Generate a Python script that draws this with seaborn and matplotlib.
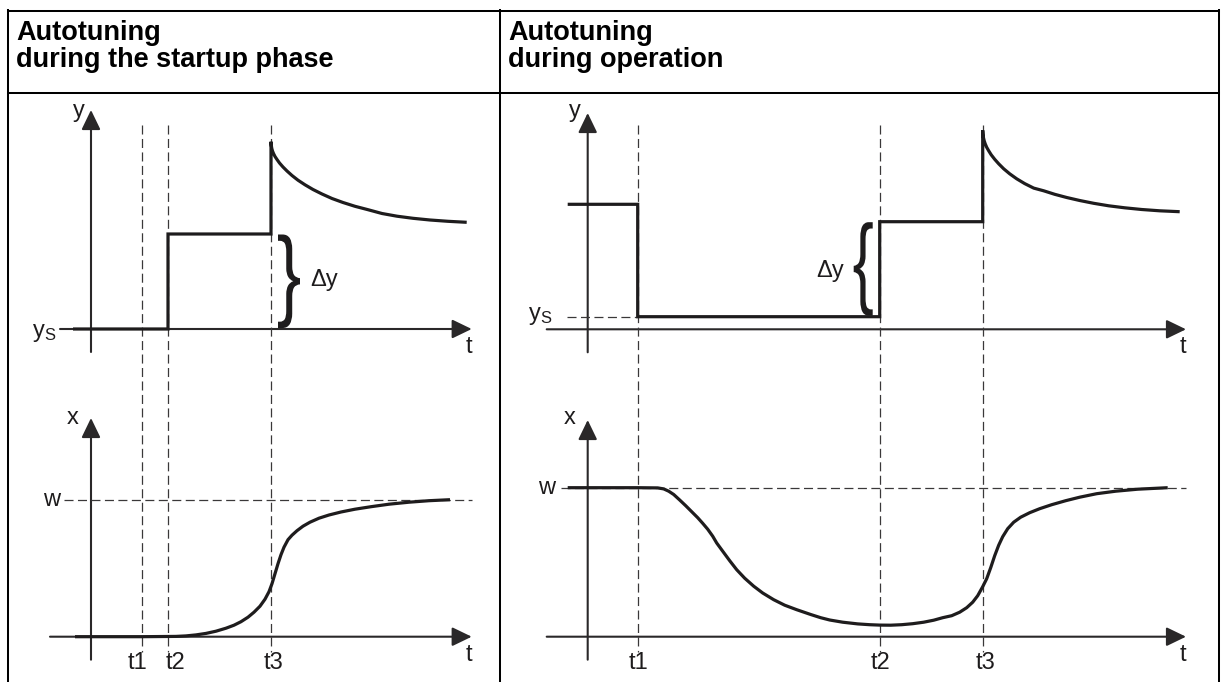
import numpy as np
import pandas as pd
import matplotlib
matplotlib.use("Agg")
import matplotlib.pyplot as plt
import seaborn as sns
import matplotlib.transforms as mtransforms
from matplotlib.textpath import TextPath
from matplotlib.patches import PathPatch
from matplotlib.font_manager import FontProperties

# ---------------- data ----------------
HEADER_LEFT = ["Autotuning", "during the startup phase"]
HEADER_RIGHT = ["Autotuning", "during operation"]
EVENT_LABELS = ["t1", "t2", "t3"]

# Left panel: autotuning during the startup phase (time / value in arbitrary units)
left_events = [5.1, 7.7, 18.0]
left_ys = 0.0
left_w = 13.7
left_y_t = [-1.8, 7.7, 7.7, 18.0, 18.0, 18.03, 18.08, 18.15, 18.25, 18.4, 18.6,
            18.85, 19.2, 19.6, 20.1, 20.7, 21.4, 22.2, 23.1, 24.1, 25.2, 26.4,
            27.7, 29.1, 30.6, 32.2, 33.9, 35.7, 37.57]
left_y_v = [0.0, 0.0, 9.5, 9.5, 18.73, 18.35, 18.05, 17.8, 17.55, 17.25, 16.95,
            16.6, 16.2, 15.8, 15.35, 14.88, 14.42, 13.95, 13.5, 13.05, 12.65, 12.27,
            11.93, 11.55, 11.28, 11.07, 10.9, 10.77, 10.67]
left_x_t = [-1.6, 5.0, 8.5, 9.5, 10.5, 11.5, 12.5, 13.5, 14.3, 15.0, 15.7, 16.3,
            16.9, 17.4, 17.8, 18.1, 18.4, 18.7, 19.0, 19.3, 19.7, 20.1, 20.6,
            21.2, 21.9, 22.8, 23.8, 25.0, 26.4, 28.0, 29.8, 31.8, 33.8, 35.9]
left_x_v = [0.0, 0.0, 0.03, 0.08, 0.18, 0.33, 0.55, 0.85, 1.15, 1.5, 1.95, 2.45,
            3.05, 3.75, 4.5, 5.3, 6.3, 7.3, 8.2, 8.95, 9.7, 10.15, 10.6,
            11.05, 11.45, 11.85, 12.17, 12.47, 12.75, 13.0, 13.25, 13.45, 13.6, 13.7]

# Right panel: autotuning during operation
right_events = [5.0, 29.2, 39.5]
right_ys = 1.26
right_w = 14.9
right_y_t = [-2.0, 5.0, 5.0, 29.2, 29.2, 39.5, 39.5, 39.53, 39.58, 39.65, 39.75,
             39.9, 40.1, 40.35, 40.7, 41.1, 41.6, 42.2, 42.9, 43.7, 44.6, 45.6,
             46.7, 47.9, 49.2, 50.6, 52.1, 53.7, 55.4, 57.2, 59.2]
right_y_v = [12.5, 12.5, 1.26, 1.26, 10.76, 10.76, 19.9, 19.5, 19.15, 18.85, 18.55,
             18.2, 17.85, 17.45, 17.0, 16.55, 16.05, 15.55, 15.05, 14.57, 14.12, 13.85,
             13.5, 13.18, 12.88, 12.6, 12.35, 12.15, 11.98, 11.85, 11.76]
right_x_t = [-2.0, 5.0, 7.0, 7.6, 8.1, 8.6, 9.2, 9.8, 10.4, 11.0, 11.5, 12.0, 12.5,
             12.9, 13.5, 14.2, 14.9, 15.7, 16.6, 17.5, 18.6, 19.7, 20.9, 22.3, 23.3,
             24.2, 25.5, 27.0, 28.2, 29.2, 30.3, 31.4, 32.5, 33.6, 34.6, 35.5, 36.4,
             37.2, 37.9, 38.5, 39.0, 39.5, 39.9, 40.3, 40.7, 41.1, 41.5, 42.0, 42.6,
             43.3, 44.2, 45.2, 46.4, 47.8, 49.2, 50.9, 52.8, 55.0, 58.0]
right_x_v = [14.9, 14.9, 14.88, 14.78, 14.55, 14.22, 13.67, 13.1, 12.5, 11.9, 11.34,
             10.75, 10.05, 9.37, 8.55, 7.6, 6.7, 5.85, 5.05, 4.37, 3.7, 3.15, 2.7, 2.22,
             1.9, 1.67, 1.45, 1.28, 1.2, 1.16, 1.15, 1.2, 1.3, 1.45, 1.65, 1.9, 2.1,
             2.45, 2.9, 3.45, 4.1, 5.0, 5.8, 6.9, 8.1, 9.15, 10.0, 10.8, 11.45,
             11.95, 12.4, 12.8, 13.2, 13.6, 13.95, 14.3, 14.55, 14.75, 14.9]

# ---------------- style ----------------
sns.set_theme(style="white")
plt.rcParams['font.family'] = ['Liberation Sans', 'DejaVu Sans']
plt.rcParams['lines.scale_dashes'] = False
plt.rcParams['mathtext.default'] = 'regular'

W, H, DPI = 1223, 682, 100
UNIT = 10.0  # pixels per data unit
INK = '#1e1c1d'
AXC = '#2a2829'
DASHC = '#3a3839'
LBL = 17

fig = plt.figure(figsize=(W / DPI, H / DPI), dpi=DPI)
fig.patch.set_facecolor('white')

# ---------- table frame ----------
frame = fig.add_axes([0, 0, 1, 1])
frame.set_xlim(0, W)
frame.set_ylim(H, 0)
frame.axis('off')
lw_frame = 1.45
for xs, ys in [([7.5, 7.5], [10, H + 5]), ([1218.5, 1218.5], [10, H + 5]),
               ([500, 500], [10, H + 5]), ([7.5, 1218.5], [10.5, 10.5]),
               ([7.5, 1218.5], [92.5, 92.5])]:
    frame.plot(xs, ys, color='black', lw=lw_frame, solid_capstyle='projecting')
for x0, lines in [(16, HEADER_LEFT), (508, HEADER_RIGHT)]:
    frame.text(x0, 39.5, lines[0], fontsize=19.5, fontweight='bold', color='black',
               ha='left', va='baseline')
    frame.text(x0, 67, lines[1], fontsize=19.5, fontweight='bold', color='black',
               ha='left', va='baseline')


def panel_axes(box, origin):
    l, t, r, b = box
    ox, oy = origin
    ax = fig.add_axes([l / W, 1 - b / H, (r - l) / W, (b - t) / H])
    ax.set_xlim((l - ox) / UNIT, (r - ox) / UNIT)
    ax.set_ylim((oy - b) / UNIT, (oy - t) / UNIT)
    ax.axis('off')
    ax.patch.set_alpha(0)
    return ax


def arrow_axes(ax, h_from, h_to, v_from, v_to):
    style = "-|>,head_length=1.2,head_width=0.58"
    for start, end in [((h_from, 0), (h_to, 0)), ((0, v_from), (0, v_to))]:
        ax.annotate("", xy=end, xytext=start,
                    arrowprops=dict(arrowstyle=style, mutation_scale=10, lw=1.5,
                                    color=AXC, shrinkA=0, shrinkB=0),
                    zorder=2)


def curve(ax, t, v):
    df = pd.DataFrame({"t": t, "v": v})
    sns.lineplot(data=df, x="t", y="v", ax=ax, sort=False, estimator=None,
                 color=INK, lw=2.3, solid_joinstyle='miter', solid_capstyle='butt',
                 zorder=4)
    ax.set_xlabel("")
    ax.set_ylabel("")


def dashed(ax, xs, ys):
    ax.plot(xs, ys, color=DASHC, lw=0.9, dashes=(6.5, 3.2), zorder=3)


def brace(ax, ch, x0, x1, y0, y1):
    fp = FontProperties(family='Liberation Sans', weight='normal')
    tp = TextPath((0, 0), ch, size=100, prop=fp)
    ext = tp.get_extents()
    tr = (mtransforms.Affine2D().translate(-ext.x0, -ext.y0)
          .scale((x1 - x0) / ext.width, (y1 - y0) / ext.height)
          .translate(x0, y0))
    ax.add_patch(PathPatch(tr.transform_path(tp), facecolor=INK, edgecolor='none',
                           zorder=5))


def label(ax, x, y, s, ha='center', va='center', size=LBL):
    ax.text(x, y, s, fontsize=size, color=INK, ha=ha, va=va, zorder=6)


def build_panel(col_box, origin_x, oy_top, oy_bot, events, ys_level, w_level,
                y_t, y_v, x_t, x_v, h_to, tick_offsets, ys_dash, brace_spec, dy_pos,
                ys_label_pos, w_label_x, v_tops):
    l, r = col_box
    ax_top = panel_axes((l, 95, r, 390), (origin_x, oy_top))
    ax_bot = panel_axes((l, 390, r, 680), (origin_x, oy_bot))

    arrow_axes(ax_top, -4.1 if ys_dash else -3.1, h_to, -2.3, v_tops[0])
    arrow_axes(ax_bot, -4.1, h_to, -2.3, v_tops[1])

    # vertical event lines through both plots
    bottom_in_top = ax_top.transData.inverted().transform(
        ax_bot.transData.transform((0, -1.5)))[1]
    for ev in events:
        dashed(ax_top, [ev, ev], [20.4, bottom_in_top])
        ax_top.lines[-1].set_clip_on(False)

    # setpoint line
    dashed(ax_bot, [-2.7, h_to], [w_level, w_level])
    if ys_dash:
        dashed(ax_top, [-2.1, events[0]], [ys_level, ys_level])

    curve(ax_top, y_t, y_v)
    curve(ax_bot, x_t, x_v)

    # brace + delta label
    ch, bx0, bx1 = brace_spec
    lo = ys_level + 0.1
    hi = y_v[y_t.index(events[1]) + 1] if ys_dash else y_v[2]
    brace(ax_top, ch, bx0, bx1, lo, hi - 0.05)
    label(ax_top, dy_pos[0], dy_pos[1], "Δy")

    # axis labels
    label(ax_top, -1.25, 21.8, "y")
    label(ax_top, h_to - 0.3, -1.75, "t")
    label(ax_top, ys_label_pos[0], ys_label_pos[1], r"$\mathregular{y_S}$", ha='right')
    label(ax_bot, -1.85, 21.9, "x")
    label(ax_bot, h_to - 0.3, -1.85, "t")
    label(ax_bot, w_label_x, w_level, "w", ha='right')
    for ev, off, s in zip(events, tick_offsets, EVENT_LABELS):
        label(ax_bot, ev + off, -2.6, s)


build_panel((20, 497), 91.0, 329.0, 636.7, left_events, left_ys, left_w,
            left_y_t, left_y_v, left_x_t, left_x_v, 38.07,
            [-0.45, 0.7, 0.3], False, ("}", 18.7, 20.9), (23.3, 4.9),
            (-3.5, -0.4), -3.05, (21.9, 21.87))

build_panel((503, 1214), 587.7, 329.3, 636.7, right_events, right_ys, right_w,
            right_y_t, right_y_v, right_x_t, right_x_v, 59.83,
            [0.1, 0.1, 0.3], True, ("{", 26.6, 28.5), (24.2, 5.8),
            (-3.55, 1.3), -3.25, (21.63, 21.67))

fig.savefig("out.png", dpi=DPI, facecolor='white')
